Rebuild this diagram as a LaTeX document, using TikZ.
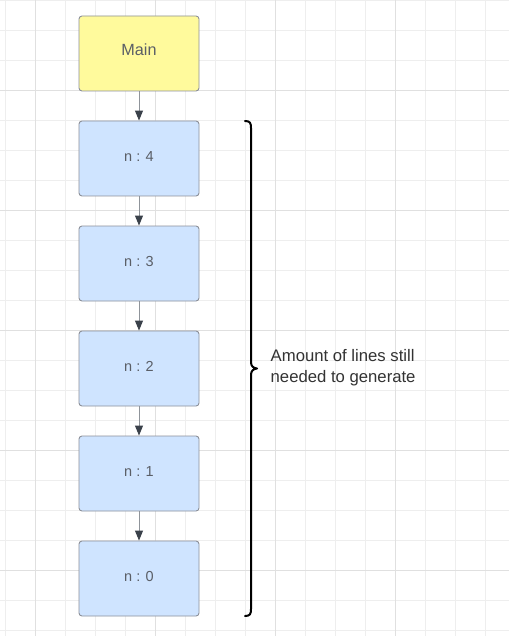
\documentclass[tikz,border=0pt]{standalone}
\usepackage{fontspec}
\setmainfont{Liberation Sans}
\usetikzlibrary{arrows.meta}
\definecolor{gridminor}{HTML}{EEEEEE}
\definecolor{gridmajor}{HTML}{E0E0E0}
\definecolor{mainfill}{HTML}{FFFA9C}
\definecolor{nfill}{HTML}{CFE4FF}
\definecolor{boxline}{HTML}{8C9099}
\definecolor{boxtext}{HTML}{5A5E66}
\definecolor{arrline}{HTML}{8F949A}
\definecolor{arrhead}{HTML}{3A414A}
\definecolor{sidetext}{HTML}{333333}
\tikzset{
  flowbox/.style={rectangle, rounded corners=3pt, draw=boxline, line width=0.9pt,
    minimum width=120pt, minimum height=75pt, inner sep=0pt, text=boxtext},
  mainbox/.style={flowbox, fill=mainfill, font=\fontsize{16.2}{19}\selectfont, text depth=7pt},
  nbox/.style={flowbox, fill=nfill, font=\fontsize{14.5}{17}\selectfont, text depth=4.5pt},
  flowarrow/.style={draw=arrline, line width=1pt,
    -{Triangle[length=10pt,width=8pt,color=arrhead]}},
  bracestyle/.style={draw=black, line width=2pt, line cap=round, line join=round},
  sidelabel/.style={anchor=north west, align=left, inner sep=0pt, text=sidetext,
    font=\fontsize{16.7}{21}\selectfont}
}
\begin{document}
\begin{tikzpicture}[x=1pt,y=-1pt]
\useasboundingbox (0,0) rectangle (509,636);
\fill[white] (0,0) rectangle (509,636);
% grid
\foreach \gx in {5,35,...,505} \draw[gridminor, line width=0.9pt] (\gx,0) -- (\gx,636);
\foreach \gy in {0,30,...,630} \draw[gridminor, line width=0.9pt] (0,\gy) -- (509,\gy);
\foreach \gx in {35,155,275,395} \draw[gridmajor, line width=0.9pt] (\gx,0) -- (\gx,636);
\foreach \gy in {90,210,330,450,570} \draw[gridmajor, line width=0.9pt] (0,\gy) -- (509,\gy);
% boxes
\node[mainbox] (main) at (139,53.5) {Main};
\node[nbox] (n4) at (139,158.5) {n : 4};
\node[nbox] (n3) at (139,263.5) {n : 3};
\node[nbox] (n2) at (139,368.5) {n : 2};
\node[nbox] (n1) at (139,473.5) {n : 1};
\node[nbox] (n0) at (139,578.5) {n : 0};
% arrows
\draw[flowarrow] (main.south) -- (n4.north);
\draw[flowarrow] (n4.south) -- (n3.north);
\draw[flowarrow] (n3.south) -- (n2.north);
\draw[flowarrow] (n2.south) -- (n1.north);
\draw[flowarrow] (n1.south) -- (n0.north);
% brace
\coordinate (btop) at (245,121);
\coordinate (bbot) at (245,616);
\draw[bracestyle] (btop) .. controls (250,121) and (251,123) .. (251,128)
  -- (251,362) .. controls (251,366) and (253,368) .. (257,368.5)
  .. controls (253,369) and (251,371) .. (251,375)
  -- (251,609) .. controls (251,614) and (250,616) .. (bbot);
% label
\node[sidelabel] (lbl) at (270.5,349) {Amount of lines still\\needed to generate};
\end{tikzpicture}
\end{document}
